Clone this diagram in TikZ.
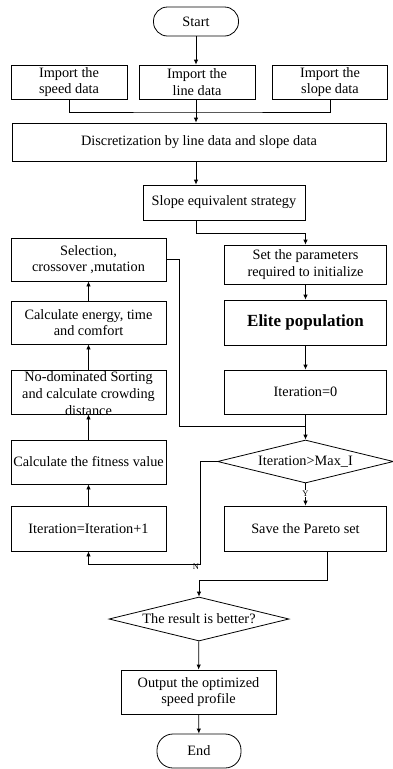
\documentclass[tikz,border=0pt]{standalone}
\usepackage{fontspec}
\setmainfont{Liberation Serif}
\usetikzlibrary{arrows.meta,shapes.geometric}
\begin{document}
\begin{tikzpicture}[x=1pt,y=-1pt,
  every node/.style={font=\fontsize{14.3}{16.5}\selectfont},
  box/.style={draw, line width=0.8pt, rectangle, inner sep=0pt, align=center},
  term/.style={draw, line width=0.8pt, rectangle, rounded corners=14pt, inner sep=0pt},
  dia/.style={draw, line width=0.8pt, diamond, inner sep=0pt},
  ln/.style={line width=0.8pt},
  arr/.style={line width=0.8pt, -{Latex[length=5pt,width=4.5pt]}},
  tag/.style={font=\fontsize{8.5}{9}\selectfont, inner sep=0.5pt}
]
\useasboundingbox (0,0) rectangle (392,769);
% main top column
\node[term, minimum width=85pt, minimum height=29pt] (start) at (196,21.5) {Start};
\node[box, minimum width=116pt, minimum height=34pt] (imp1) at (69,82) {Import the\\speed data};
\node[box, minimum width=116pt, minimum height=34pt] (imp2) at (197,82) {Import the\\line data};
\node[box, minimum width=115pt, minimum height=34pt] (imp3) at (330,82) {Import the\\slope data};
\node[box, minimum width=374pt, minimum height=38pt] (disc) at (199,142) {Discretization by line data and slope data};
\node[box, minimum width=162pt, minimum height=35pt] (slope) at (224,202.5) {Slope equivalent strategy};
% right column
\node[box, minimum width=162pt, minimum height=39pt] (set) at (305.5,264.5) {Set the parameters\\required to initialize};
\node[box, minimum width=162pt, minimum height=45pt, font=\fontsize{17}{20}\selectfont\bfseries] (elite) at (305.5,322.5) {Elite population};
\node[box, minimum width=162pt, minimum height=44pt] (it0) at (305.5,392) {Iteration=0};
\node[dia, minimum width=176pt, minimum height=43pt] (d1) at (305.5,461.5) {};
\node at (d1) {Iteration>Max\_I};
\node[box, minimum width=162pt, minimum height=45pt] (save) at (305.5,528.5) {Save the Pareto set};
% left column
\node[box, minimum width=155pt, minimum height=43pt] (sel) at (88.5,259.5) {Selection,\\crossover ,mutation};
\node[box, minimum width=155pt, minimum height=43pt] (cal) at (88.5,322.5) {Calculate energy, time\\and comfort};
\node[box, minimum width=155pt, minimum height=44pt] (nod) at (88.5,392) {};
\node[align=center, inner sep=0pt, font=\fontsize{14.3}{17}\selectfont] at (88.5,394) {No-dominated Sorting\\and calculate crowding\\distance};
\node[box, minimum width=155pt, minimum height=44pt] (fit) at (88.5,462) {Calculate the fitness value};
\node[box, minimum width=155pt, minimum height=45pt] (inc) at (88.5,528.5) {Iteration=Iteration+1};
% bottom
\node[dia, minimum width=180pt, minimum height=44pt] (d2) at (199,619) {};
\node at (d2) {The result is better?};
\node[box, minimum width=155pt, minimum height=44pt] (out) at (198.5,692) {Output the optimized\\speed profile};
\node[term, minimum width=84pt, minimum height=34pt, rounded corners=16pt] (end) at (199,751) {End};
% junction coordinates
\coordinate (m1) at (196,112);
\coordinate (j1) at (196,233);
\coordinate (j2) at (179,426);
\coordinate (j3) at (200,564);
\coordinate (j4) at (199,580);
% connectors
\draw[arr] (start.south -| m1) -- (imp2.north -| m1);
\draw[ln] (imp1.south) |- (m1) -| (imp3.south);
\draw[ln] (imp2.south -| m1) -- (m1);
\draw[arr] (m1) -- (disc.north -| m1);
\draw[arr] (disc.south -| m1) -- (slope.north -| m1);
\draw[arr] (slope.south -| j1) -- (j1) -| (set.north);
\draw[arr] (set) -- (elite);
\draw[arr] (elite) -- (it0);
\draw[arr] (it0) -- (d1.north);
\draw[ln] (sel.east) -| (j2) -- (j2 -| it0.south);
\draw[arr] (d1.south) -- node[tag, fill=white, pos=0.45] {Y} (save.north);
\draw[arr] (d1.west) -| (j3) -| (inc.south);
\node[tag, anchor=north] at (196,563) {N};
\draw[arr] ([xshift=22pt]save.south) |- (j4) -- (d2.north);
\draw[arr] (d2) -- (out);
\draw[arr] (out) -- (end);
\draw[arr] (inc) -- (fit);
\draw[arr] (fit) -- (nod);
\draw[arr] (nod) -- (cal);
\draw[arr] (cal) -- (sel);
\end{tikzpicture}
\end{document}
